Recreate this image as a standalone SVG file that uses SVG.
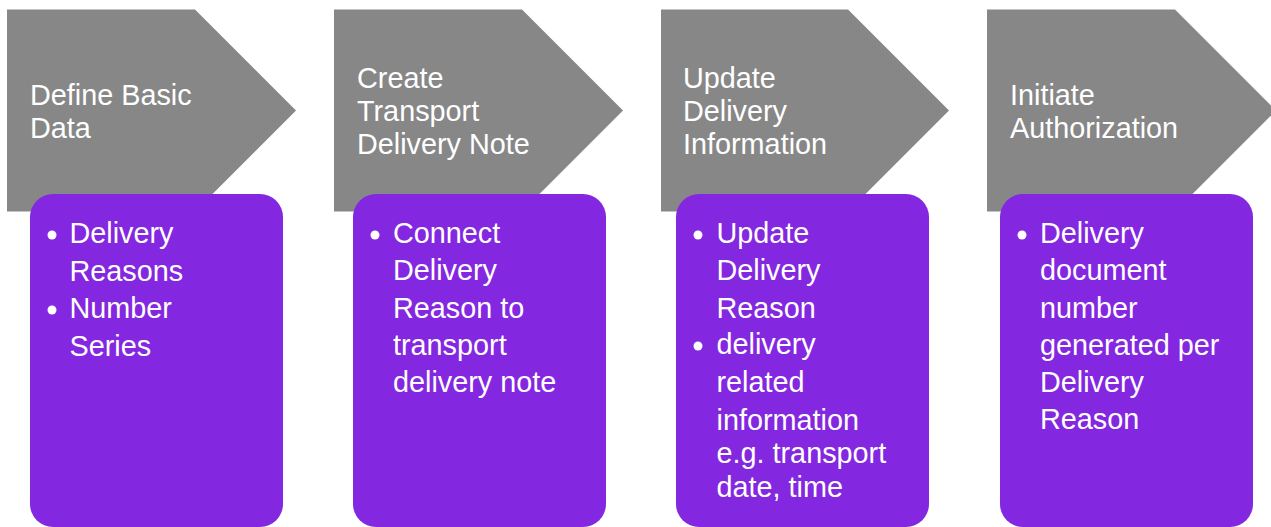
<svg xmlns="http://www.w3.org/2000/svg" width="1271" height="527" viewBox="0 0 1271 527">
<style>
.chev{fill:#878787}
.box{fill:#8427E0}
text{font-family:"Liberation Sans",Arial,sans-serif;font-size:28.8px;fill:#ffffff}
.dot{fill:#ffffff}
</style>
<rect width="1271" height="527" fill="#ffffff"/>
<g id="step1">
<polygon class="chev" points="7,9.5 195,9.5 296,110.5 195,211.5 7,211.5"/>
<text x="30" y="104.5">Define Basic</text>
<text x="30" y="137.5">Data</text>
</g>
<g id="step2">
<polygon class="chev" points="334,9.5 522,9.5 623,110.5 522,211.5 334,211.5"/>
<text x="357" y="87.5">Create</text>
<text x="357" y="120.8">Transport</text>
<text x="357" y="154">Delivery Note</text>
</g>
<g id="step3">
<polygon class="chev" points="661,9.5 848,9.5 949,110.5 848,211.5 661,211.5"/>
<text x="683" y="87.5">Update</text>
<text x="683" y="120.8">Delivery</text>
<text x="683" y="154">Information</text>
</g>
<g id="step4">
<polygon class="chev" points="987,9.5 1175,9.5 1276,110.5 1175,211.5 987,211.5"/>
<text x="1010" y="104.5">Initiate</text>
<text x="1010" y="137.5">Authorization</text>
</g>
<g id="box1">
<rect class="box" x="30" y="194" width="253" height="333" rx="23"/>
<circle class="dot" cx="52" cy="235" r="4.5"/>
<circle class="dot" cx="52" cy="310" r="4.5"/>
<text x="69.5" y="243">Delivery</text>
<text x="69.5" y="280.5">Reasons</text>
<text x="69.5" y="318">Number</text>
<text x="69.5" y="355.5">Series</text>
</g>
<g id="box2">
<rect class="box" x="353" y="194" width="253" height="333" rx="23"/>
<circle class="dot" cx="375" cy="235" r="4.5"/>
<text x="393" y="243">Connect</text>
<text x="393" y="280.3">Delivery</text>
<text x="393" y="317.6">Reason to</text>
<text x="393" y="354.9">transport</text>
<text x="393" y="392">delivery note</text>
</g>
<g id="box3">
<rect class="box" x="676" y="194" width="253" height="333" rx="23"/>
<circle class="dot" cx="698" cy="235" r="4.5"/>
<circle class="dot" cx="698" cy="346" r="4.5"/>
<text x="716.5" y="243">Update</text>
<text x="716.5" y="280.3">Delivery</text>
<text x="716.5" y="317.5">Reason</text>
<text x="716.5" y="354">delivery</text>
<text x="716.5" y="392">related</text>
<text x="716.5" y="429.5">information</text>
<text x="716.5" y="463">e.g. transport</text>
<text x="716.5" y="497">date, time</text>
</g>
<g id="box4">
<rect class="box" x="1000" y="194" width="253" height="333" rx="23"/>
<circle class="dot" cx="1022" cy="235" r="4.5"/>
<text x="1040" y="243">Delivery</text>
<text x="1040" y="280.3">document</text>
<text x="1040" y="317.5">number</text>
<text x="1040" y="354.5">generated per</text>
<text x="1040" y="392">Delivery</text>
<text x="1040" y="429">Reason</text>
</g>
</svg>
